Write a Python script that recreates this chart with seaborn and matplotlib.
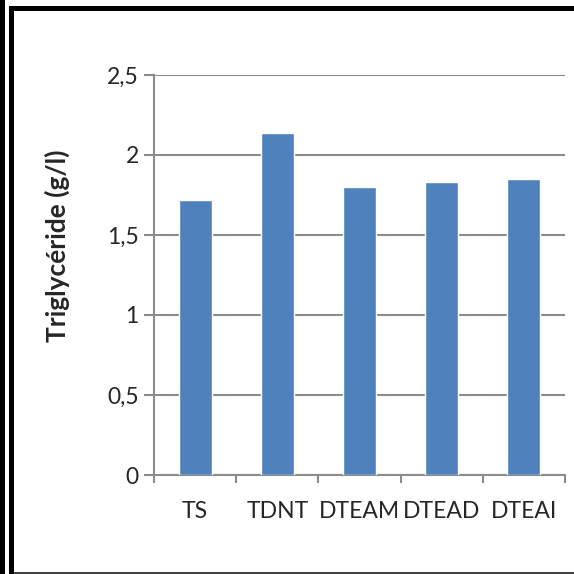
import matplotlib
matplotlib.use("Agg")
import matplotlib.pyplot as plt
import seaborn as sns
import pandas as pd
from matplotlib.patches import Rectangle

categories = ["TS", "TDNT", "DTEAM", "DTEAD", "DTEAI"]
values = [1.72, 2.14, 1.80, 1.83, 1.85]
yticks = [0, 0.5, 1, 1.5, 2, 2.5]
ytick_labels = ["0", "0,5", "1", "1,5", "2", "2,5"]
ylabel = "Triglycéride (g/l)"

sns.set_style("white")
plt.rcParams["font.family"] = ["Lato", "DejaVu Sans"]

W = H = 574
fig = plt.figure(figsize=(W / 100, H / 100), dpi=100)
ax = fig.add_axes([154 / W, 1 - 475 / H, (565 - 154) / W, (475 - 75) / H])

df = pd.DataFrame({"cat": categories, "val": values})
sns.barplot(data=df, x="cat", y="val", color="#4F81BD", saturation=1,
            width=0.4, ax=ax, zorder=3)

grid_c = "#8C8C8C"
fs = 16.5
ax.set_ylim(0, 2.5)
ax.set_xlim(-0.5, len(categories) - 0.5)
ax.set_yticks(yticks)
ax.set_yticklabels(ytick_labels, fontsize=fs)
ax.yaxis.grid(True, color=grid_c, linewidth=1.5, zorder=0)
ax.set_axisbelow(True)

# x ticks at category boundaries, labels at centers
ax.set_xticks([i - 0.5 for i in range(len(categories) + 1)])
ax.set_xticklabels([])
ax.set_xticks(range(len(categories)), minor=True)
ax.set_xticklabels(categories, minor=True, fontsize=fs)
ax.tick_params(axis="x", which="major", bottom=True, direction="out",
               length=6, width=1.5, color=grid_c)
ax.tick_params(axis="x", which="minor", bottom=True, length=0, pad=19)
ax.tick_params(axis="y", which="major", left=True, direction="out",
               length=7, width=1.5, color=grid_c, pad=4)

for s in ["top", "right"]:
    ax.spines[s].set_visible(False)
for s in ["left", "bottom"]:
    ax.spines[s].set_color(grid_c)
    ax.spines[s].set_linewidth(1.5)

ax.set_xlabel("")
ax.set_ylabel("")
fig.text(57 / W, 1 - 246 / H, ylabel, rotation=90, fontsize=19,
         fontweight="bold", ha="center", va="center")

def px_rect(x0, y0, x1, y1, color):
    fig.add_artist(Rectangle((x0 / W, 1 - y1 / H), (x1 - x0) / W, (y1 - y0) / H,
                             transform=fig.transFigure, facecolor=color,
                             edgecolor="none", zorder=10))

px_rect(0, 0, 5, H, "black")
px_rect(9, 6, 14, H, "black")
px_rect(9, 6, W, 11, "black")
px_rect(14, 572, W, H, "#404040")

fig.savefig("out.png", dpi=100)
